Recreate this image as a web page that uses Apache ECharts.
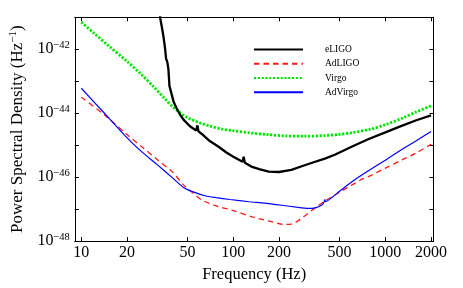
<!DOCTYPE html>
<html><head><meta charset="utf-8">
<script src="https://cdn.jsdelivr.net/npm/echarts@6/dist/echarts.min.js"></script>
<style>html,body{margin:0;padding:0;background:#fff}#c{width:463px;height:288px}</style>
</head><body><div id="c"></div>
<script>
// Frequencies (Hz) and PSD values (Hz^-1)
const eligoFreq = [32.5,33.1,34.0,34.7,35.5,36.1,36.8,37.4,38.0,38.6,40.4,42.4,44.7,47,51.8,57,58,59,62,70,80,90,100,115,117,119,133,148,171,200,241,282,330,400,465,600,764,1000,1255,1600,2000];
const eligoPsd  = [2.51e-41,8.91e-42,4.47e-42,2.51e-42,1.12e-42,5.13e-43,3.98e-43,2.40e-43,7.08e-44,5.37e-44,2.34e-44,1.41e-44,8.91e-45,6.31e-45,3.89e-45,2.88e-45,4.17e-45,2.69e-45,2.24e-45,1.35e-45,8.91e-46,5.89e-46,4.37e-46,3.02e-46,4.37e-46,2.82e-46,2.09e-46,1.78e-46,1.48e-46,1.45e-46,1.70e-46,2.19e-46,2.82e-46,3.80e-46,5.01e-46,8.91e-46,1.51e-45,2.51e-45,3.89e-45,6.03e-45,8.51e-45];

const adligoFreq = [10,14,20,25,31.4,40,47,55,63,80,99,133,155,185,215,240,266,290,320,350,400,450,500,600,700,800,1000,1300,1600,2000];
const adligoPsd  = [3.16e-44,9.33e-45,2.14e-45,8.91e-46,3.63e-46,1.41e-46,5.75e-47,3.02e-47,1.86e-47,1.20e-47,9.12e-48,5.75e-48,4.79e-48,3.89e-48,3.31e-48,3.39e-48,4.27e-48,5.75e-48,8.32e-48,1.15e-47,1.78e-47,2.51e-47,3.39e-47,5.62e-47,8.51e-47,1.12e-46,1.91e-46,3.55e-46,5.75e-46,1.07e-45];

const virgoFreq = [10,12,15,20,25,30,35,40,45,50,60,70,85,100,130,170,220,300,400,500,600,800,1000,1300,1600,2000];
const virgoPsd  = [7.08e-42,3.31e-42,1.32e-42,4.17e-43,1.58e-43,6.61e-44,3.02e-44,1.58e-44,1.00e-44,7.24e-45,5.01e-45,3.98e-45,3.16e-45,2.82e-45,2.40e-45,2.14e-45,1.95e-45,1.91e-45,2.00e-45,2.19e-45,2.45e-45,3.16e-45,4.37e-45,7.08e-45,1.10e-44,1.70e-44];

const advirgoFreq = [10,14,20,25,31.4,40,47,55,66,77,95,127,160,210,260,310,350,385,395,400,405,450,500,600,700,1000,1300,1600,2000];
const advirgoPsd  = [6.03e-44,1.07e-44,1.70e-45,6.17e-46,2.51e-46,9.33e-47,4.79e-47,3.39e-47,2.57e-47,2.29e-47,2.00e-47,1.70e-47,1.55e-47,1.32e-47,1.15e-47,1.05e-47,1.12e-47,1.38e-47,1.66e-47,2.00e-47,1.70e-47,2.40e-47,3.63e-47,7.08e-47,1.17e-46,3.39e-46,7.59e-46,1.38e-45,2.69e-45];

const seriesNames = ['eLIGO','AdLIGO','Virgo','AdVirgo'];
const xTickLabels = [10,20,50,100,200,500,1000,2000];
const yTickLabels = [1e-48,1e-46,1e-44,1e-42];
const yDecades = [1e-48,1e-47,1e-46,1e-45,1e-44,1e-43,1e-42,1e-41];

// ECharts' log axis rounds very small numbers to 0, so the y axis works in units of 1e-48 Hz^-1
const PSD_UNIT = 1e-48;
const EXP_UNIT = -48;
const toUnit = v => v / PSD_UNIT;

const yMinor = [];
for (let n = 0; n < 7; n++) for (let k = 2; k <= 9; k++) yMinor.push(k * Math.pow(10, n));

function pairs(f, v) { return f.map((x, i) => [x, toUnit(v[i])]); }

const FONT = 'Liberation Serif';
const xMin = 9.06, xMax = 2075, yMin = toUnit(1e-48), yMax = toUnit(1e-41);

function yLabel(v) {
  const e = Math.round(Math.log10(v)) + EXP_UNIT;
  return '{b|10}{s|\u2212' + (-e) + '}';
}
const yRich = {
  b: {fontFamily: FONT, fontSize: 16, color: '#000', lineHeight: 19},
  s: {fontFamily: FONT, fontSize: 10.5, color: '#000', verticalAlign: 'top', lineHeight: 10}
};

const baseX = {type: 'log', logBase: 10, min: xMin, max: xMax, splitLine: {show: false},
  axisLine: {show: true, onZero: false, lineStyle: {color: '#000', width: 1}}};
const baseY = {type: 'log', logBase: 10, min: yMin, max: yMax, splitLine: {show: false},
  axisLine: {show: true, onZero: false, lineStyle: {color: '#000', width: 1}}};

function tickAxisY(pos, values, len) {
  return Object.assign({}, baseY, {position: pos,
    axisTick: {show: true, inside: true, length: len, customValues: values.map(toUnit), lineStyle: {color: '#000'}},
    axisLabel: {show: false}});
}

const option = {
  animation: false,
  backgroundColor: '#fff',
  grid: {left: 70.7, top: 17.3, right: 29.5, bottom: 45.7, containLabel: false},
  legend: {
    orient: 'vertical', left: 253, top: 44, padding: 0,
    itemWidth: 49, itemHeight: 14, itemGap: 3,
    data: seriesNames,
    itemStyle: {opacity: 0},
    textStyle: {fontFamily: FONT, fontSize: 9.5, color: '#000', padding: [0, 0, 0, 17]}
  },
  xAxis: [
    Object.assign({}, baseX, {position: 'bottom',
      name: 'Frequency (Hz)', nameLocation: 'middle', nameGap: 21,
      nameTextStyle: {fontFamily: FONT, fontSize: 16.5, color: '#000'},
      axisTick: {show: true, inside: true, length: 4, customValues: xTickLabels, lineStyle: {color: '#000'}},
      axisLabel: {show: true, customValues: xTickLabels, fontFamily: FONT, fontSize: 16, color: '#000', margin: 4,
        formatter: v => String(Math.round(v))}}),
    Object.assign({}, baseX, {position: 'top',
      axisTick: {show: true, inside: true, length: 4, customValues: xTickLabels, lineStyle: {color: '#000'}},
      axisLabel: {show: false}})
  ],
  yAxis: [
    Object.assign({}, baseY, {position: 'left',
      name: '{a|Power Spectral Density (Hz}{s|\u22121}{a|)}', nameLocation: 'middle', nameGap: 46,
      nameTextStyle: {rich: {
        a: {fontFamily: FONT, fontSize: 17, color: '#000', lineHeight: 20},
        s: {fontFamily: FONT, fontSize: 11, color: '#000', verticalAlign: 'top', lineHeight: 11}}},
      axisTick: {show: true, inside: true, length: 4, customValues: yDecades.map(toUnit), lineStyle: {color: '#000'}},
      axisLabel: {show: true, customValues: yTickLabels.map(toUnit), margin: 5, formatter: yLabel, rich: yRich}}),
    tickAxisY('right', yDecades, 4),
    tickAxisY('left', yMinor, 2),
    tickAxisY('right', yMinor, 2)
  ],
  series: [
    {name: 'eLIGO', type: 'line', data: pairs(eligoFreq, eligoPsd), showSymbol: false, symbol: 'circle',
      lineStyle: {color: '#000', width: 2.3}, itemStyle: {color: '#000'}, z: 4},
    {name: 'AdLIGO', type: 'line', data: pairs(adligoFreq, adligoPsd), showSymbol: false, symbol: 'circle', smooth: 0.3,
      lineStyle: {color: '#ff1a1a', width: 1.3, type: [5.5, 4]}, itemStyle: {color: '#ff1a1a'}, z: 3},
    {name: 'Virgo', type: 'line', data: pairs(virgoFreq, virgoPsd), showSymbol: false, symbol: 'circle', smooth: 0.3,
      lineStyle: {color: '#00e600', width: 2.8, type: [2.2, 1.6]}, itemStyle: {color: '#00e600'}, z: 2},
    {name: 'AdVirgo', type: 'line', data: pairs(advirgoFreq, advirgoPsd), showSymbol: false, symbol: 'circle', smooth: 0.2,
      lineStyle: {color: '#0000ff', width: 1.2}, itemStyle: {color: '#0000ff'}, z: 5}
  ]
};
const chart = echarts.init(document.getElementById('c'), null, {renderer: 'canvas'});
chart.setOption(option);
</script></body></html>
